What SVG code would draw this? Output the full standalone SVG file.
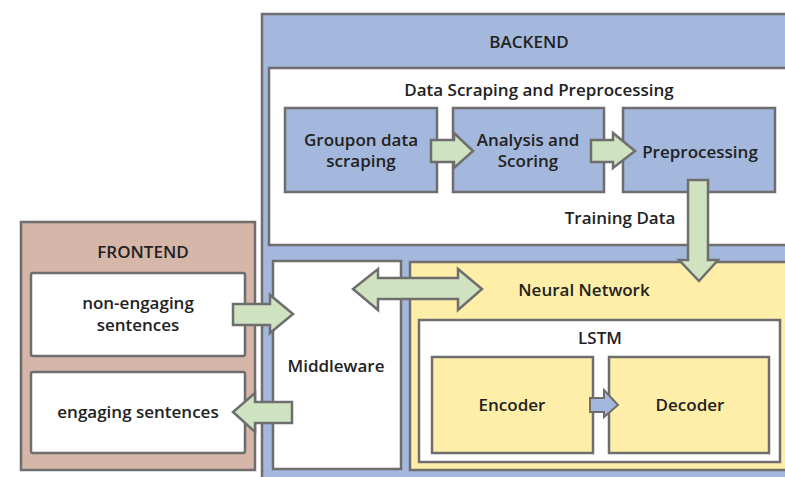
<svg xmlns="http://www.w3.org/2000/svg" width="785" height="477" viewBox="0 0 785 477">
  <style>
    .box { stroke: #6e6e6e; stroke-width: 2.5; }
    .blue { fill: #a4b7dd; }
    .white { fill: #ffffff; }
    .brown { fill: #d5b6a9; }
    .yellow { fill: #feeea8; }
    .arrow { fill: #cfe3c1; stroke: #6e6e6e; stroke-width: 2.5; stroke-linejoin: miter; }
    .arrow-blue { fill: #a4b7dd; stroke: #6e6e6e; stroke-width: 2; }
    text { font-family: "Open Sans", "Liberation Sans", sans-serif; font-weight: 600; font-size: 17px; fill: #222222; text-anchor: middle; }
  </style>
  <rect width="785" height="477" fill="#ffffff"/>

  <g id="backend">
    <rect class="box blue" x="262" y="14" width="540" height="480"/>
    <text x="529" y="48">BACKEND</text>
  </g>

  <g id="data-scraping">
    <rect class="box white" x="269" y="68" width="530" height="177"/>
    <text x="539" y="96">Data Scraping and Preprocessing</text>
  </g>

  <g id="groupon">
    <rect class="box blue" x="285" y="108" width="152" height="84"/>
    <text x="361" y="146">Groupon data</text>
    <text x="361" y="167">scraping</text>
  </g>

  <g id="analysis">
    <rect class="box blue" x="453" y="108" width="151" height="84"/>
    <text x="528" y="146">Analysis and</text>
    <text x="528" y="167">Scoring</text>
  </g>

  <g id="preprocessing">
    <rect class="box blue" x="623" y="108" width="152" height="84"/>
    <text x="700" y="158">Preprocessing</text>
  </g>

  <g id="training-label">
    <text x="620" y="224">Training Data</text>
  </g>

  <g id="frontend">
    <rect class="box brown" x="21" y="222" width="234" height="248"/>
    <text x="143" y="258">FRONTEND</text>
  </g>

  <g id="non-engaging">
    <rect class="box white" x="31" y="273" width="214" height="83" rx="2"/>
    <text x="138" y="309">non-engaging</text>
    <text x="138" y="331">sentences</text>
  </g>

  <g id="engaging">
    <rect class="box white" x="31" y="372" width="214" height="81" rx="2"/>
    <text x="138" y="418">engaging sentences</text>
  </g>

  <g id="middleware">
    <rect class="box white" x="273" y="261" width="128" height="208"/>
    <text x="336" y="372">Middleware</text>
  </g>

  <g id="neural-network">
    <rect class="box yellow" x="410" y="262" width="390" height="208"/>
    <text x="584" y="296">Neural Network</text>
  </g>

  <g id="lstm">
    <rect class="box white" x="419" y="320" width="361" height="142"/>
    <text x="600" y="344">LSTM</text>
  </g>

  <g id="encoder">
    <rect class="box yellow" x="432" y="357" width="161" height="96"/>
    <text x="512" y="411">Encoder</text>
  </g>

  <g id="decoder">
    <rect class="box yellow" x="609" y="357" width="160" height="96"/>
    <text x="690" y="411">Decoder</text>
  </g>

  <g id="connectors">
    <!-- Groupon -> Analysis -->
    <polygon class="arrow" points="431,140 454,140 454,133 473,151 454,168 454,162 431,162"/>
    <!-- Analysis -> Preprocessing -->
    <polygon class="arrow" points="591,140 613,140 613,133 635,151 613,168 613,162 591,162"/>
    <!-- Preprocessing -> Neural Network (training data) -->
    <polygon class="arrow" points="688,180 708,180 708,260 718,260 699,281 679,260 688,260"/>
    <!-- Middleware <-> Neural Network -->
    <polygon class="arrow" points="353,289 378,269 378,278 458,278 458,269 482,289 458,310 458,299 378,299 378,310"/>
    <!-- non-engaging -> Middleware -->
    <polygon class="arrow" points="233,304 270,304 270,295 293,314 270,333 270,325 233,325"/>
    <!-- Middleware -> engaging -->
    <polygon class="arrow" points="292,402 255,402 255,393 233,412 255,432 255,423 292,423"/>
    <!-- Encoder -> Decoder -->
    <polygon class="arrow-blue" points="590,398 604,398 604,390 618,405 604,417 604,412 590,412"/>
  </g>
</svg>
